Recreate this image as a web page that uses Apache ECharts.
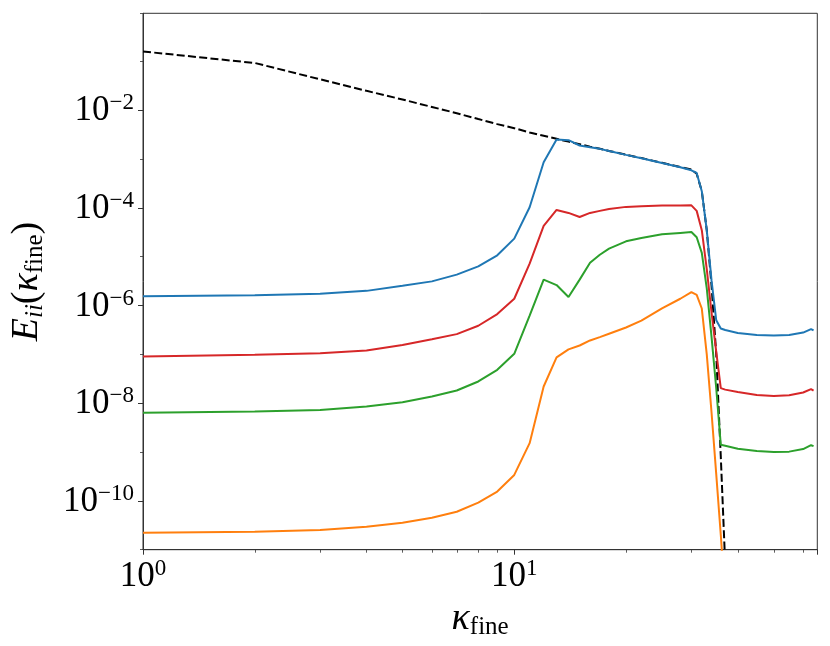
<!DOCTYPE html>
<html>
<head>
<meta charset="utf-8">
<title>E_ii(kappa_fine)</title>
<script src="https://cdn.jsdelivr.net/npm/echarts@6/dist/echarts.min.js"></script>
<style>
  html, body { margin: 0; padding: 0; background: #fff; }
  #chart { width: 830px; height: 646px; }
</style>
</head>
<body>
<div id="chart"></div>
<script>
// wavenumbers the curves were read at
const kappa = [1, 2, 3, 4, 5, 6, 7, 8, 9, 10, 11, 12, 13, 14, 15, 16, 17, 18, 20, 22, 25, 28, 30,
               31, 32, 33, 34, 35, 36, 37, 40, 45, 50, 55, 60, 63, 64];

// black dashed reference spectrum
const eRef = [1.6e-1, 9.3e-2, 4.3e-2, 2.5e-2, 1.66e-2, 1.17e-2, 8.7e-3, 6.6e-3, 5.2e-3, 4.3e-3, 3.5e-3,
              3.0e-3, 2.6e-3, 2.28e-3, 2.02e-3, 1.8e-3, 1.63e-3, 1.47e-3, 1.23e-3, 1.05e-3, 8.4e-4,
              6.9e-4, 6.1e-4, 5.0e-4, 2.2e-4, 3.5e-5, 2.5e-6, 1.0e-7, 8e-10, 5e-12,
              null, null, null, null, null, null, null];
const eBlue = [1.55e-6, 1.62e-6, 1.75e-6, 2.0e-6, 2.55e-6, 3.13e-6, 4.3e-6, 6.35e-6, 1.07e-5, 2.35e-5,
               1.03e-4, 8.6e-4, 2.52e-3, 2.44e-3, 1.9e-3, 1.75e-3, 1.62e-3, 1.46e-3, 1.22e-3, 1.04e-3,
               8.3e-4, 6.8e-4, 5.9e-4, 5.2e-4, 2.2e-4, 3.5e-5, 3.2e-6, 5.0e-7, 3.4e-7, 3.16e-7,
               2.75e-7, 2.5e-7, 2.45e-7, 2.5e-7, 2.8e-7, 3.3e-7, 3.1e-7];
const eOrange = [2.23e-11, 2.34e-11, 2.53e-11, 2.95e-11, 3.57e-11, 4.53e-11, 6.0e-11, 9.2e-11, 1.55e-10,
                 3.4e-10, 1.52e-9, 2.2e-8, 8.7e-8, 1.27e-7, 1.52e-7, 1.93e-7, 2.26e-7, 2.65e-7, 3.56e-7,
                 4.9e-7, 8.8e-7, 1.38e-6, 1.88e-6, 1.66e-6, 8.7e-7, 1.0e-7, 6.3e-9, 3.5e-10, 2.0e-11,
                 1.0e-12, null, null, null, null, null, null, null];
const eGreen = [6.35e-9, 6.75e-9, 7.3e-9, 8.55e-9, 1.05e-8, 1.37e-8, 1.82e-8, 2.79e-8, 4.84e-8, 1.03e-7,
                6.2e-7, 3.4e-6, 2.63e-6, 1.5e-6, 3.4e-6, 7.5e-6, 1.1e-5, 1.47e-5, 2.07e-5, 2.43e-5,
                2.88e-5, 3.08e-5, 3.2e-5, 2.5e-5, 1.2e-5, 2.24e-6, 2.24e-7, 2.0e-8, 1.41e-9, 1.35e-9,
                1.17e-9, 1.05e-9, 1.0e-9, 1.02e-9, 1.15e-9, 1.38e-9, 1.32e-9];
const eRed = [9.1e-8, 9.8e-8, 1.06e-7, 1.2e-7, 1.55e-7, 2.04e-7, 2.6e-7, 3.86e-7, 6.7e-7, 1.38e-6,
              7.2e-6, 4.3e-5, 9.1e-5, 7.9e-5, 6.5e-5, 7.9e-5, 8.7e-5, 9.5e-5, 1.05e-4, 1.08e-4,
              1.12e-4, 1.12e-4, 1.13e-4, 8.7e-5, 3.5e-5, 5.6e-6, 7.1e-7, 1.12e-7, 2.04e-8, 1.9e-8,
              1.7e-8, 1.48e-8, 1.41e-8, 1.45e-8, 1.66e-8, 1.95e-8, 1.82e-8];

// axis limits and labelled decades
const xRange = [1, 65.5];
const yRange = [1e-11, 0.968];
const xTickExps = [0, 1];
const yTickExps = [-2, -4, -6, -8, -10];

const serif = 'Liberation Serif';

function pairs(vals) {
    return kappa.map((k, i) => [k, vals[i]]).filter(p => p[1] != null);
}

function powLabel(v, exps) {
    const e = Math.round(Math.log10(v));
    if (exps.indexOf(e) < 0) return '';
    return '{b|10}{e|' + (e < 0 ? '\u2212' + (-e) : e) + '}';
}

const powRich = {
    b: { fontFamily: serif, fontSize: 35, lineHeight: 37, color: '#000', verticalAlign: 'bottom' },
    e: { fontFamily: serif, fontSize: 23, lineHeight: 20, color: '#000', verticalAlign: 'top' }
};

const nameRich = {
    i: { fontFamily: serif, fontStyle: 'italic', fontSize: 38, lineHeight: 40, color: '#000', verticalAlign: 'top' },
    r: { fontFamily: serif, fontSize: 38, lineHeight: 40, color: '#000', verticalAlign: 'top' },
    si: { fontFamily: serif, fontStyle: 'italic', fontSize: 25, lineHeight: 23, color: '#000', verticalAlign: 'bottom' },
    s: { fontFamily: serif, fontSize: 25, lineHeight: 23, color: '#000', verticalAlign: 'bottom' }
};

const axisColor = '#333';

function line(name, vals, color, dashed) {
    return {
        name: name,
        type: 'line',
        data: pairs(vals),
        showSymbol: false,
        symbol: 'none',
        clip: true,
        lineStyle: { color: color, width: 2, type: dashed ? [8, 3.3] : 'solid' },
        itemStyle: { color: color }
    };
}

const chart = echarts.init(document.getElementById('chart'), null, { renderer: 'canvas' });

chart.setOption({
    animation: false,
    backgroundColor: '#fff',
    grid: {
        left: 141.7, right: 12.7, top: 13.3, bottom: 96.3,
        show: true, borderColor: axisColor, borderWidth: 1
    },
    xAxis: {
        type: 'log',
        logBase: 10,
        min: xRange[0],
        max: xRange[1],
        name: '{i|κ}{s|fine}',
        nameLocation: 'middle',
        nameGap: 43,
        nameTextStyle: { rich: nameRich },
        axisLine: { lineStyle: { color: axisColor, width: 1 } },
        axisTick: { show: true, length: 5, lineStyle: { color: axisColor, width: 1 } },
        minorTick: { show: true, splitNumber: 9, length: 3, lineStyle: { color: axisColor, width: 0.8 } },
        splitLine: { show: false },
        axisLabel: {
            margin: 8,
            showMaxLabel: false,
            formatter: v => powLabel(v, xTickExps),
            rich: powRich
        }
    },
    yAxis: [{
        type: 'log',
        logBase: 100,
        min: yRange[0],
        max: yRange[1],
        name: '{i|E}{si|ii}{r|(}{i|κ}{s|fine}{r|)}',
        nameLocation: 'middle',
        nameRotate: 90,
        nameGap: 95,
        nameTextStyle: { rich: nameRich },
        axisLine: { lineStyle: { color: axisColor, width: 1 } },
        axisTick: { show: true, length: 5, lineStyle: { color: axisColor, width: 1 } },
        splitLine: { show: false },
        axisLabel: {
            margin: 9,
            showMinLabel: false,
            showMaxLabel: false,
            formatter: v => powLabel(v, yTickExps),
            rich: powRich
        }
    }, {
        // odd decades: minor ticks only, in log10 units
        type: 'value',
        position: 'left',
        min: Math.log10(yRange[0]),
        max: Math.log10(yRange[1]),
        interval: 2,
        axisLine: { show: false },
        axisTick: { show: true, length: 3, lineStyle: { color: axisColor, width: 0.8 } },
        axisLabel: { show: false },
        splitLine: { show: false }
    }],
    series: [
        line('reference', eRef, '#000000', true),
        line('C0', eBlue, '#1f77b4'),
        line('C1', eOrange, '#ff7f0e'),
        line('C2', eGreen, '#2ca02c'),
        line('C3', eRed, '#d62728')
    ]
});
</script>
</body>
</html>
